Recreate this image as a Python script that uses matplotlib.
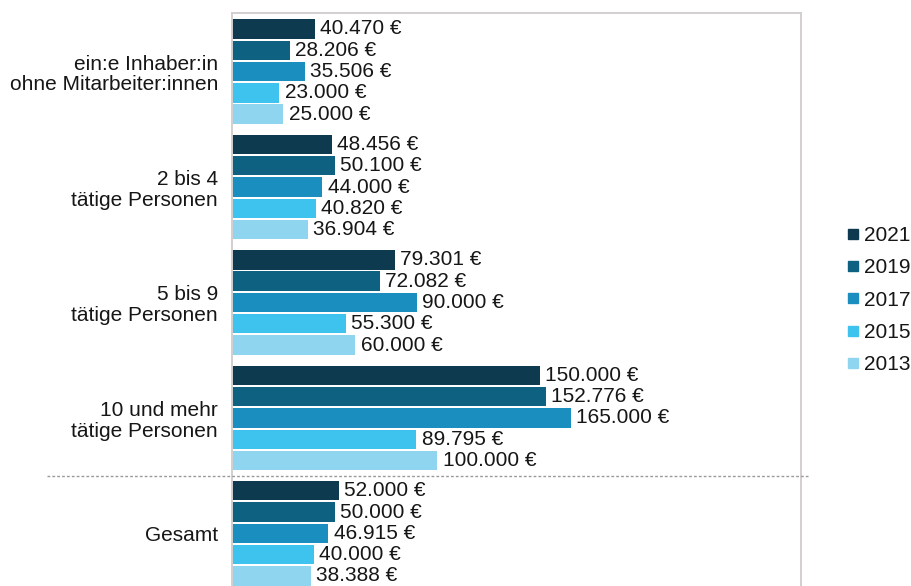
import matplotlib
matplotlib.use("Agg")
import matplotlib.pyplot as plt
from matplotlib.lines import Line2D
import numpy as np

plt.rcParams['font.family'] = ['Liberation Sans', 'DejaVu Sans']

categories = ["ein:e Inhaber:in\nohne Mitarbeiter:innen",
              "2 bis 4\ntätige Personen",
              "5 bis 9\ntätige Personen",
              "10 und mehr\ntätige Personen",
              "Gesamt"]
years = ["2021", "2019", "2017", "2015", "2013"]
values = {
    "2021": [40470, 48456, 79301, 150000, 52000],
    "2019": [28206, 50100, 72082, 152776, 50000],
    "2017": [35506, 44000, 90000, 165000, 46915],
    "2015": [23000, 40820, 55300, 89795, 40000],
    "2013": [25000, 36904, 60000, 100000, 38388],
}
colors = ["#0d3a4e", "#0e6180", "#1b8ec0", "#3ec2ee", "#8fd5f0"]

W, H = 912, 586
fig = plt.figure(figsize=(W / 100, H / 100), dpi=100)
ax = fig.add_axes([232 / W, 0, (801 - 232) / W, (H - 13) / H])

G = 5.42
bh = 0.91
FS = 15
TXT = '#161616'
for j, (yr, col) in enumerate(zip(years, colors)):
    ys = np.arange(len(categories)) * G + j
    vals = values[yr]
    ax.barh(ys, vals, height=bh, color=col, edgecolor='none', zorder=2)
    for y, v in zip(ys, vals):
        lab = f"{v:,}".replace(",", ".") + " €"
        ax.annotate(lab, (v, y), xytext=(3.8, 0), textcoords='offset points',
                    va='center', ha='left', fontsize=FS, color=TXT)

centers = np.arange(len(categories)) * G + 2
ax.set_yticks(centers)
ax.set_yticklabels(categories, fontsize=FS, color=TXT)
for t in ax.get_yticklabels():
    t.set_linespacing(1.12)
ax.tick_params(axis='y', length=0, pad=10)
ax.set_xticks([])
ax.set_xlim(0, 277000)
ax.set_ylim(26.15, -0.75)

for s in ['top', 'right', 'left']:
    ax.spines[s].set_color('#d3cfcf')
    ax.spines[s].set_linewidth(1.4)
ax.spines['bottom'].set_visible(False)

# dashed separator between groups and total
ysep = 3 * G + 4 + bh / 2 + ((4 * G - bh / 2) - (3 * G + 4 + bh / 2)) / 2
ax.plot([-0.325, 1.012], [ysep, ysep], transform=ax.get_yaxis_transform(),
        clip_on=False, color='#9a9a9a', lw=1.0, ls=(0, (2.0, 1.5)), zorder=3)

handles = [Line2D([], [], marker='s', linestyle='', markersize=6.5, color=c) for c in colors]
fig.legend(handles, years, loc='upper left', bbox_to_anchor=(847 / W, 1 - 226 / H),
           frameon=False, fontsize=FS, handlelength=0.6, handletextpad=0.2,
           labelspacing=0.64, borderpad=0, borderaxespad=0, labelcolor=TXT)

fig.savefig("out.png", dpi=100, facecolor='white')
